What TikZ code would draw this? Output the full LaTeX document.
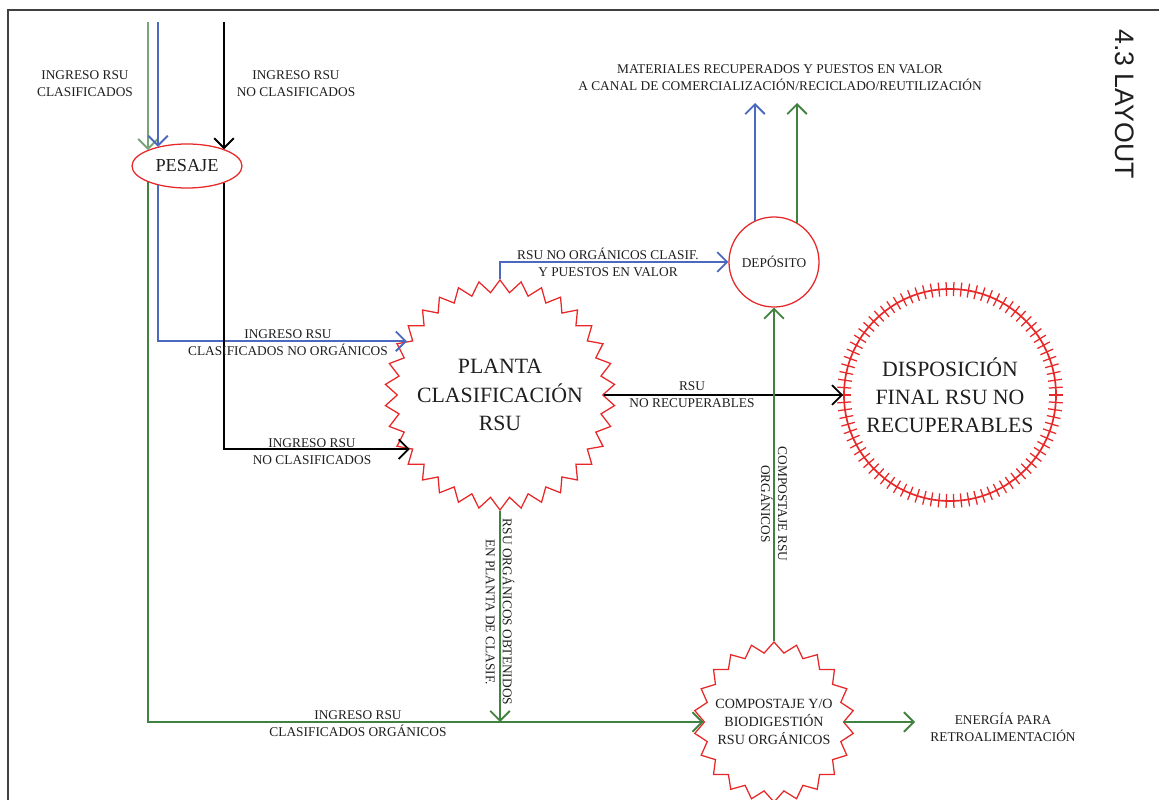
\documentclass[tikz,border=0pt]{standalone}
\usepackage{fontspec}
\setmainfont{Liberation Serif}
\setsansfont{Liberation Sans}
\usetikzlibrary{arrows.meta,shapes.geometric}

\definecolor{rojo}{RGB}{232,40,40}
\definecolor{verde}{RGB}{65,130,65}
\definecolor{verdeclaro}{RGB}{120,165,120}
\definecolor{azul}{RGB}{75,105,190}
\definecolor{texto}{RGB}{30,30,30}

\tikzset{
  flujo/.style={line width=1.3pt,-{Straight Barb[length=7pt,width=14pt]}},
  etiqueta/.style={text=texto,font=\fontsize{9.5}{12}\selectfont,align=center,inner sep=0pt},
  proceso/.style={draw=rojo,line width=0.9pt,text=texto,align=center,inner sep=0pt}
}

\begin{document}
\begin{tikzpicture}[x=0.025cm,y=-0.025cm]
\useasboundingbox (0,0) rectangle (1159,800);
\draw[line width=1.2pt,black!75] (8,800) -- (8,10) -- (1159,10); % frame

% processes
\node[proceso,ellipse,minimum width=2.75cm,minimum height=1.1cm,font=\fontsize{13}{15}\selectfont] (pesaje) at (187,166) {PESAJE};
\node[proceso,star,star points=34,star point ratio=1.12,minimum size=5.75cm] (planta) at (500,395) {};
\node[etiqueta,font=\fontsize{15.5}{20}\selectfont] (plantatxt) at (planta) {PLANTA\\CLASIFICACIÓN\\RSU};
\node[proceso,circle,minimum size=2.25cm,font=\fontsize{9.5}{12}\selectfont] (deposito) at (774,262) {DEPÓSITO};
\node[proceso,circle,line width=1.2pt,minimum size=5.3cm,font=\fontsize{15.5}{20}\selectfont] (disposicion) at (950,395) {DISPOSICIÓN\\FINAL RSU NO\\RECUPERABLES};
\foreach \a in {0,4,...,356}
  \draw[rojo,line width=0.9pt] (disposicion.center) ++(\a:99) -- ++(\a:14); % hatch of disposicion
\node[proceso,star,star points=22,star point ratio=1.15,minimum size=4cm] (compostaje) at (774,722) {};
\node[etiqueta,font=\fontsize{10}{13}\selectfont] (compostajetxt) at (compostaje) {COMPOSTAJE Y/O\\BIODIGESTIÓN\\RSU ORGÁNICOS};

% free ends of the arrows
\coordinate (inG) at (148,22);
\coordinate (inB) at (158,22);
\coordinate (inN) at (224,22);
\coordinate (outB) at (755,103);
\coordinate (outG) at (797,103);
\coordinate (energia) at (915,722);

% incoming to pesaje
\draw[flujo,verdeclaro] (inG) -- (inG |- pesaje.158);
\draw[flujo,azul] (inB) -- (inB |- pesaje.147);
\draw[flujo] (inN) -- (inN |- pesaje.24);
\node[etiqueta] (lblclasif) at (85,84) {INGRESO RSU\\CLASIFICADOS};
\node[etiqueta] (lblnoclasif) at (296,84) {INGRESO RSU\\NO CLASIFICADOS};

% out of pesaje
\draw[flujo,verde] (inG |- pesaje.202) |- (compostaje.west);
\draw[flujo,azul] (inB |- pesaje.213) |- (planta.150);
\draw[flujo] (inN |- pesaje.336) |- (planta.211);
\node[etiqueta] (lblnoorg) at (288,343) {INGRESO RSU\\CLASIFICADOS NO ORGÁNICOS};
\node[etiqueta] (lblnoclasifb) at (312,452) {INGRESO RSU\\NO CLASIFICADOS};
\node[etiqueta] (lblorg) at (358,724) {INGRESO RSU\\CLASIFICADOS ORGÁNICOS};

% out of planta
\draw[flujo,azul] (planta.north) |- (deposito.west);
\node[etiqueta] (lblvalor) at (608,262) {RSU NO ORGÁNICOS CLASIF.\\Y PUESTOS EN VALOR};
\draw[flujo] (planta.east) -- (disposicion.west);
\node[etiqueta] (lblnorec) at (692,395) {RSU\\NO RECUPERABLES};
\draw[flujo,verde] (planta.south) -- (planta.south |- compostaje.west);
\node[etiqueta,rotate=-90] (lblobt) at (500,612) {RSU ORGÁNICOS OBTENIDOS\\EN PLANTA DE CLASIF.};

% deposito and compostaje
\draw[flujo,azul] (outB |- deposito.115) -- (outB);
\draw[flujo,verde] (outG |- deposito.59) -- (outG);
\node[etiqueta] (lblmat) at (780,78) {MATERIALES RECUPERADOS Y PUESTOS EN VALOR\\A CANAL DE COMERCIALIZACIÓN/RECICLADO/REUTILIZACIÓN};
\draw[flujo,verde] (compostaje.north) -- (deposito.south);
\node[etiqueta,rotate=-90] (lblcomp) at (774,504) {COMPOSTAJE RSU\\ORGÁNICOS};
\draw[flujo,verde] (compostaje.east) -- (energia);
\node[etiqueta] (lblenergia) at (1003,727) {ENERGÍA PARA\\RETROALIMENTACIÓN};

\node[rotate=-90,text=texto,font=\sffamily\fontsize{19}{22}\selectfont] (titulo) at (1125,104) {4.3 LAYOUT};
\end{tikzpicture}
\end{document}
